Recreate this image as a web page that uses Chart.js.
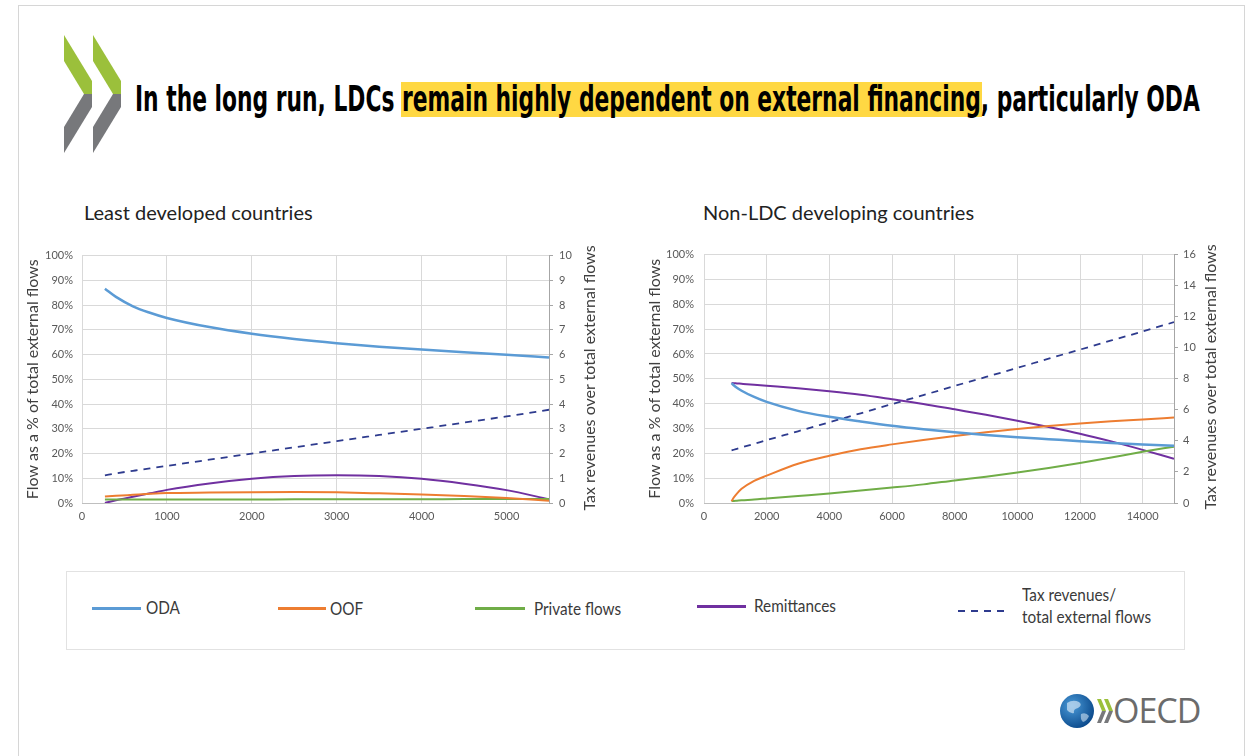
<!DOCTYPE html>
<html>
<head>
<meta charset="utf-8">
<script src="https://cdn.jsdelivr.net/npm/chart.js@4.4.0/dist/chart.umd.min.js"></script>
<style>
body { margin: 0; width: 1247px; height: 756px; overflow: hidden; position: relative; background: #fff; font-family: Lato, "Open Sans", sans-serif; }
#frame { position: absolute; left: 18px; top: 5px; width: 1225px; height: 800px; border: 1px solid #d6d6d6; }
#title { position: absolute; left: 135px; top: 76px; white-space: nowrap; font: bold 35px "Liberation Sans Narrow", "DejaVu Sans Condensed", "DejaVu Sans", sans-serif; font-stretch: condensed; color: #000; transform-origin: 0 0; line-height: 46px; }
#hl { position: absolute; background: #ffd843; }
.sub { position: absolute; top: 199px; font-size: 20px; color: #222; line-height: 26px; }
.box { position: absolute; }
.rtitle { position: absolute; width: 300px; height: 20px; line-height: 20px; text-align: center; font-size: 16px; color: #404040; transform: rotate(-90deg); white-space: nowrap; }
#legend { position: absolute; left: 66px; top: 571px; width: 1117px; height: 77px; border: 1px solid #e2e2e2; }
.li { position: absolute; height: 3px; }
.lt { position: absolute; font-size: 17px; color: #3a3a3a; line-height: 22px; white-space: nowrap; transform: scaleX(0.9); transform-origin: 0 0; }
#oecd { position: absolute; left: 1113px; top: 690px; font: 34px "Open Sans", "DejaVu Sans", sans-serif; color: #6b6b6b; letter-spacing: -1px; line-height: 40px; }
</style>
</head>
<body>
<div id="frame"></div>

<svg style="position:absolute;left:0;top:0" width="200" height="170">
  <g id="chev">
    <polygon points="64,35 92,81 92,94 84,94 64,61" fill="#9bc03b"/>
    <polygon points="64,153 92,107 92,94 84,94 64,127" fill="#77787b"/>
  </g>
  <use href="#chev" x="29"/>
</svg>

<div id="hl"></div>
<div id="title"><span>In the long run, LDCs </span><span id="hlText">remain highly dependent on external financing</span><span>, particularly ODA</span></div>

<div class="sub" style="left:84px">Least developed countries</div>
<div class="sub" style="left:703px">Non-LDC developing countries</div>

<canvas id="ldcChart" class="box" style="left:20px;top:240px" width="590" height="290"></canvas>
<canvas id="nonLdcChart" class="box" style="left:640px;top:238px" width="600" height="292"></canvas>
<div class="rtitle" style="left:439px;top:368px">Tax revenues over total external flows</div>
<div class="rtitle" style="left:1060px;top:367px">Tax revenues over total external flows</div>

<div id="legend"></div>
<div class="li" style="left:92px;top:607px;width:49px;background:#5b9bd5"></div>
<div class="lt" style="left:146px;top:597px">ODA</div>
<div class="li" style="left:278px;top:607px;width:48px;background:#ed7d31"></div>
<div class="lt" style="left:330px;top:598px">OOF</div>
<div class="li" style="left:475px;top:607px;width:50px;background:#70ad47"></div>
<div class="lt" style="left:534px;top:598px">Private flows</div>
<div class="li" style="left:697px;top:605px;width:49px;background:#7030a0"></div>
<div class="lt" style="left:754px;top:595px">Remittances</div>
<div class="li" style="left:958px;top:610px;width:50px;height:2px;background:repeating-linear-gradient(to right,#2e3b8e 0 7px,transparent 7px 13px)"></div>
<div class="lt" style="left:1022px;top:584px">Tax revenues/</div>
<div class="lt" style="left:1022px;top:606px">total external flows</div>

<svg style="position:absolute;left:1055px;top:690px" width="60" height="44">
  <defs>
    <radialGradient id="globe" cx="0.35" cy="0.35" r="0.7">
      <stop offset="0" stop-color="#4a9ad8"/>
      <stop offset="1" stop-color="#0b4a8c"/>
    </radialGradient>
  </defs>
  <circle cx="22" cy="21" r="17" fill="url(#globe)"/>
  <path d="M12 13 q6 -4 12 -1 q4 3 -1 6 q-5 1 -4 5 q-4 1 -7 -3 z" fill="#cfe3f3" opacity="0.7"/>
  <path d="M26 24 q5 -2 8 2 q-2 5 -6 6 q-3 -3 -2 -8 z" fill="#cfe3f3" opacity="0.6"/>
  <polygon points="42,9 46,9 51,21 47,21" fill="#9bc03b"/>
  <polygon points="47,21 51,21 46,33 42,33" fill="#77787b"/>
  <polygon points="49,9 53,9 58,21 54,21" fill="#9bc03b"/>
  <polygon points="54,21 58,21 53,33 49,33" fill="#77787b"/>
</svg>
<div id="oecd">OECD</div>

<script>
// Least developed countries (GDP per capita on x)
const ldcIncome = [270, 400, 600, 800, 1000, 1500, 2000, 2500, 3000, 3500, 4000, 4500, 5000, 5500];
const ldcOda = [86.6, 83.3, 79.5, 76.9, 74.8, 71.1, 68.4, 66.3, 64.6, 63.2, 62.0, 60.9, 59.9, 58.8];
const ldcOof = [2.6, 2.9, 3.3, 3.7, 4.0, 4.2, 4.35, 4.4, 4.3, 3.9, 3.4, 2.8, 2.0, 0.9];
const ldcPrivate = [1.4, 1.4, 1.4, 1.4, 1.4, 1.4, 1.4, 1.5, 1.5, 1.5, 1.5, 1.6, 1.6, 1.6];
const ldcRemit = [0.0, 1.1, 2.5, 3.9, 5.3, 7.9, 9.8, 10.9, 11.2, 10.9, 9.8, 7.8, 5.2, 1.5];
const ldcTax = [1.12, 1.2, 1.3, 1.4, 1.5, 1.75, 2.0, 2.25, 2.5, 2.75, 3.0, 3.25, 3.5, 3.77];
const ldcXTicks = [0, 1000, 2000, 3000, 4000, 5000];

// Non-LDC developing countries
const nonIncome = [880, 950, 1050, 1200, 1600, 2000, 3000, 4000, 5000, 6000, 7000, 8000, 9000, 10000, 11000, 12000, 13000, 14000, 15000];
const nonOda = [48.3, 47.4, 46.4, 45.2, 42.7, 40.7, 37.1, 34.7, 32.8, 31.1, 29.7, 28.5, 27.4, 26.5, 25.7, 24.9, 24.2, 23.6, 23.0];
const nonOof = [0.7, 2.2, 3.8, 5.7, 8.9, 11.0, 15.8, 19.0, 21.6, 23.6, 25.4, 27.0, 28.5, 29.8, 31.0, 32.0, 32.9, 33.6, 34.4];
const nonPrivate = [0.8, 0.85, 0.95, 1.1, 1.4, 1.8, 2.8, 3.8, 5.0, 6.2, 7.5, 9.1, 10.6, 12.3, 14.1, 16.1, 18.3, 20.6, 22.7];
const nonRemit = [48.3, 48.25, 48.15, 48.0, 47.6, 47.2, 46.2, 45.0, 43.6, 41.8, 39.9, 37.7, 35.5, 33.1, 30.6, 27.9, 24.8, 21.4, 17.8];
const nonTax = [3.39, 3.43, 3.49, 3.58, 3.81, 4.05, 4.62, 5.2, 5.78, 6.37, 6.95, 7.54, 8.12, 8.7, 9.3, 9.88, 10.47, 11.05, 11.65];
const nonXTicks = [0, 2000, 4000, 6000, 8000, 10000, 12000, 14000];

const tickFont = { family: 'Lato', size: 11 };
const titleFont = { family: 'Lato', size: 16 };
const gridColor = '#d9d9d9';

// Fit the title to the slide width and place the yellow highlight behind it
const title = document.getElementById('title');
title.style.transform = 'scaleX(' + (1065 / title.offsetWidth) + ')';
const r = document.getElementById('hlText').getBoundingClientRect();
const hl = document.getElementById('hl');
hl.style.left = (r.left - 1) + 'px';
hl.style.width = (r.width + 2) + 'px';
hl.style.top = '82px';
hl.style.height = '35px';

function points(xs, ys) {
    return xs.map((x, i) => ({ x: x, y: ys[i] }));
}

function makeChart(id, xs, series, cfg) {
    const datasets = [
        { label: 'ODA', data: points(xs, series.oda), borderColor: '#5b9bd5', borderWidth: 2.5, yAxisID: 'y' },
        { label: 'OOF', data: points(xs, series.oof), borderColor: '#ed7d31', borderWidth: 2, yAxisID: 'y' },
        { label: 'Private flows', data: points(xs, series.priv), borderColor: '#70ad47', borderWidth: 2, yAxisID: 'y' },
        { label: 'Remittances', data: points(xs, series.remit), borderColor: '#7030a0', borderWidth: 2, yAxisID: 'y' },
        { label: 'Tax revenues/total external flows', data: points(xs, series.tax), borderColor: '#2e3b8e', borderWidth: 1.8, borderDash: [7, 6], yAxisID: 'y2' }
    ];
    datasets.forEach(d => {
        d.pointRadius = 0;
        d.fill = false;
        d.cubicInterpolationMode = 'monotone';
    });

    return new Chart(document.getElementById(id), {
        type: 'line',
        data: { datasets: datasets },
        options: {
            responsive: false,
            animation: false,
            layout: { padding: { top: 13, left: 0, right: 0, bottom: 0 } },
            plugins: { legend: { display: false }, tooltip: { enabled: false } },
            scales: {
                x: {
                    type: 'linear',
                    min: 0,
                    max: cfg.xMax,
                    ticks: { font: tickFont, color: '#595959', padding: 7, maxRotation: 0, autoSkip: false, callback: v => String(v) },
                    afterBuildTicks: s => { s.ticks = cfg.xTicks.map(v => ({ value: v })); },
                    grid: { color: gridColor, drawTicks: false },
                    border: { color: '#bfbfbf' },
                    afterFit: s => { s.height = 27; }
                },
                y: {
                    position: 'left',
                    min: 0,
                    max: 100,
                    ticks: { stepSize: 10, font: tickFont, color: '#595959', padding: cfg.leftPad, callback: v => v + '%' },
                    grid: { color: gridColor, drawTicks: false },
                    border: { display: false },
                    title: { display: true, text: 'Flow as a % of total external flows', font: titleFont, color: '#404040', padding: { top: cfg.leftTitlePad, bottom: 0 } },
                    afterFit: s => { s.width = cfg.leftWidth; }
                },
                y2: {
                    position: 'right',
                    min: 0,
                    max: cfg.taxMax,
                    ticks: { stepSize: cfg.taxStep, font: tickFont, color: '#595959', padding: cfg.rightPad },
                    grid: { drawOnChartArea: false, tickLength: 4, color: '#a6a6a6' },
                    border: { color: '#a6a6a6' },
                    afterFit: s => { s.width = cfg.rightWidth; }
                }
            }
        }
    });
}

makeChart('ldcChart', ldcIncome,
    { oda: ldcOda, oof: ldcOof, priv: ldcPrivate, remit: ldcRemit, tax: ldcTax },
    { xMax: 5500, xTicks: ldcXTicks, taxMax: 10, taxStep: 1, leftWidth: 62, rightWidth: 61, leftPad: 9, rightPad: 6, leftTitlePad: 3.5 });

makeChart('nonLdcChart', nonIncome,
    { oda: nonOda, oof: nonOof, priv: nonPrivate, remit: nonRemit, tax: nonTax },
    { xMax: 15000, xTicks: nonXTicks, taxMax: 16, taxStep: 2, leftWidth: 64, rightWidth: 66, leftPad: 10, rightPad: 5, leftTitlePad: 5.5 });
</script>
</body>
</html>
